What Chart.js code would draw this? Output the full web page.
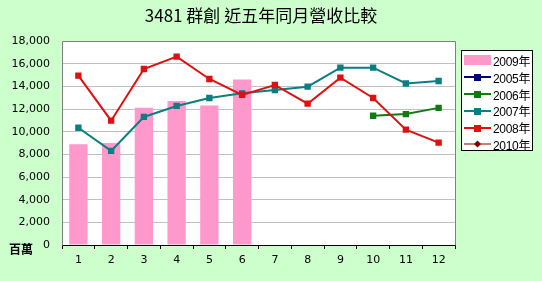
<!DOCTYPE html>
<html>
<head>
<meta charset="utf-8">
<script src="https://cdn.jsdelivr.net/npm/chart.js@4/dist/chart.umd.min.js"></script>
<style>
    body { margin: 0; background: #CCFFCC; }
    #wrap { position: relative; width: 542px; height: 281px; background: #CCFFCC; overflow: hidden; }
    #chart { position: absolute; left: 0; top: 0; }
    #title { position: absolute; left: 0; width: 522px; top: 2px; text-align: center; font: 17px "Noto Sans CJK TC", sans-serif; color: #000; }
    #unit { position: absolute; left: 9px; top: 240px; font: bold 12px "Noto Sans CJK TC", sans-serif; color: #000; }
    #legend { position: absolute; left: 461px; top: 50px; width: 72px; height: 101px; border: 1px solid #000; background: #fff; box-sizing: border-box; padding-top: 1px; }
    .item { height: 16.8px; line-height: 16.8px; display: flex; align-items: center; white-space: nowrap; font: 12px "Liberation Sans", "Noto Sans CJK TC", sans-serif; letter-spacing: -0.3px; color: #000; }
    .item canvas { margin: 0 2px 0 2px; flex: none; }
</style>
</head>
<body>
<div id="wrap">
    <canvas id="chart" width="542" height="281"></canvas>
    <div id="title">3481 群創 近五年同月營收比較</div>
    <div id="unit">百萬</div>
    <div id="legend"></div>
</div>
<script>
const months = ['1', '2', '3', '4', '5', '6', '7', '8', '9', '10', '11', '12'];
const yTicks = [0, 2000, 4000, 6000, 8000, 10000, 12000, 14000, 16000, 18000];

// 百萬元
const rev2009 = [8900, 9000, 12100, 12700, 12300, 14600, null, null, null, null, null, null];
const rev2005 = [null, null, null, null, null, null, null, null, null, null, null, null];
const rev2006 = [null, null, null, null, null, null, null, null, null, 11400, 11550, 12100];
const rev2007 = [10350, 8300, 11300, 12270, 12970, 13380, 13680, 13970, 15650, 15650, 14250, 14470];
const rev2008 = [14950, 10970, 15530, 16620, 14650, 13250, 14120, 12470, 14770, 12970, 10180, 9030];
const rev2010 = [null, null, null, null, null, null, null, null, null, null, null, null];

const lineSet = (label, data, color, order, style) => ({
    type: 'line',
    label: label,
    data: data,
    borderColor: color,
    backgroundColor: color,
    borderWidth: 2,
    pointStyle: style || 'rect',
    pointRadius: 4.5,
    pointBorderWidth: 0,
    spanGaps: false,
    order: order
});

const datasets = [
    { type: 'bar', label: '2009年', data: rev2009, backgroundColor: '#FF99CC', barPercentage: 0.56, categoryPercentage: 1, order: 10 },
    lineSet('2005年', rev2005, '#000080', 5),
    lineSet('2006年', rev2006, '#137A13', 3),
    lineSet('2007年', rev2007, '#0A7E80', 2),
    lineSet('2008年', rev2008, '#E01010', 1),
    lineSet('2010年', rev2010, '#800000', 4, 'rectRot')
];

// plot area frame like the spreadsheet chart
const framePlugin = {
    id: 'frame',
    afterDraw(chart) {
        const a = chart.chartArea;
        const ctx = chart.ctx;
        const l = Math.round(a.left) + 0.5, r = Math.round(a.right) + 0.5;
        const t = Math.round(a.top) + 0.5, b = Math.round(a.bottom) + 0.5;
        ctx.save();
        ctx.lineWidth = 1;
        ctx.strokeStyle = '#808080';
        ctx.beginPath();
        ctx.moveTo(l, b); ctx.lineTo(l, t); ctx.lineTo(r, t); ctx.lineTo(r, b);
        ctx.stroke();
        ctx.strokeStyle = '#000';
        ctx.beginPath();
        ctx.moveTo(l, b); ctx.lineTo(r, b);
        ctx.stroke();
        ctx.restore();
    },
    beforeDraw(chart) {
        const a = chart.chartArea;
        chart.ctx.save();
        chart.ctx.fillStyle = '#fff';
        chart.ctx.fillRect(a.left, a.top, a.right - a.left, a.bottom - a.top);
        chart.ctx.restore();
    }
};

new Chart(document.getElementById('chart'), {
    type: 'bar',
    data: { labels: months, datasets: datasets },
    plugins: [framePlugin],
    options: {
        responsive: false,
        animation: false,
        layout: { padding: { top: 41, right: 87, left: 0, bottom: 0 } },
        plugins: { legend: { display: false }, tooltip: { enabled: false } },
        scales: {
            x: {
                afterFit(s) { s.height = 36; },
                grid: { display: true, drawOnChartArea: false, offset: true, tickLength: 4, color: '#000' },
                border: { display: false },
                ticks: { color: '#000', font: { family: 'DejaVu Sans', size: 11 }, padding: 5, maxRotation: 0 }
            },
            y: {
                min: 0,
                max: 18000,
                afterFit(s) { s.width = 62; },
                afterBuildTicks(s) { s.ticks = yTicks.map(v => ({ value: v })); },
                grid: { color: '#C0C0C0', drawTicks: false },
                border: { display: false },
                ticks: {
                    color: '#000',
                    font: { family: 'DejaVu Sans', size: 11 },
                    padding: 12,
                    callback: v => v.toLocaleString('en-US')
                }
            }
        }
    }
});

// legend box
const legend = document.getElementById('legend');
datasets.forEach(ds => {
    const row = document.createElement('div');
    row.className = 'item';
    const c = document.createElement('canvas');
    c.width = 27; c.height = 10;
    const g = c.getContext('2d');
    if (ds.type === 'bar') {
        g.fillStyle = ds.backgroundColor;
        g.fillRect(0, 0, 27, 10);
    } else {
        g.strokeStyle = ds.borderColor;
        g.lineWidth = ds.pointStyle === 'rectRot' ? 1 : 2;
        g.beginPath(); g.moveTo(0, 5); g.lineTo(27, 5); g.stroke();
        g.fillStyle = ds.borderColor;
        if (ds.pointStyle === 'rectRot') {
            g.beginPath(); g.moveTo(13.5, 1.5); g.lineTo(17, 5); g.lineTo(13.5, 8.5); g.lineTo(10, 5); g.closePath(); g.fill();
        } else {
            g.fillRect(10, 2, 7, 7);
        }
    }
    row.appendChild(c);
    const t = document.createElement('span');
    t.textContent = ds.label;
    row.appendChild(t);
    legend.appendChild(row);
});
</script>
</body>
</html>
